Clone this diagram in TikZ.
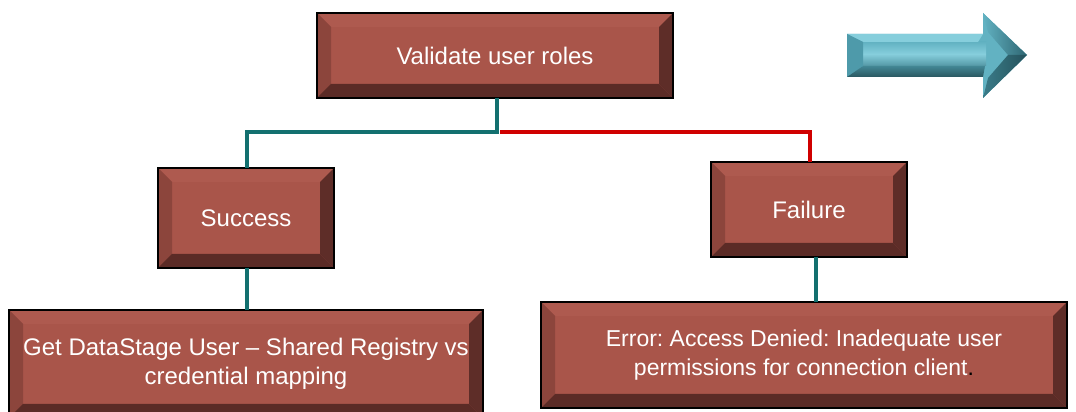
\documentclass[tikz,border=0pt]{standalone}
\usepackage{fontspec}
\setmainfont{Liberation Sans}
\definecolor{face}{HTML}{A9554A}
\definecolor{bvT}{HTML}{AE5A4F}
\definecolor{bvL}{HTML}{8C453C}
\definecolor{bvR}{HTML}{5E2D28}
\definecolor{bvB}{HTML}{5B2B26}
\definecolor{tealc}{HTML}{13706F}
\definecolor{redc}{HTML}{D00000}
\definecolor{arF}{HTML}{62B2C2}
\definecolor{arT}{HTML}{86CEDC}
\definecolor{arL}{HTML}{4E9AAA}
\definecolor{arB}{HTML}{3B7C89}
\definecolor{arH}{HTML}{2E6672}
\tikzset{
  bevbox/.style={draw=black, line width=1.6pt, fill=face, text=white,
    font=\fontsize{24}{29}\selectfont\frenchspacing, align=center, inner sep=0pt, outer sep=0pt,
    path picture={
      \def\bb{path picture bounding box}
      \fill[bvT] (\bb.north west) -- (\bb.north east) -- ([xshift=-14pt,yshift=-14pt]\bb.north east) -- ([xshift=14pt,yshift=-14pt]\bb.north west) -- cycle;
      \fill[bvL] (\bb.north west) -- ([xshift=14pt,yshift=-14pt]\bb.north west) -- ([xshift=14pt,yshift=14pt]\bb.south west) -- (\bb.south west) -- cycle;
      \fill[bvR] (\bb.north east) -- ([xshift=-14pt,yshift=-14pt]\bb.north east) -- ([xshift=-14pt,yshift=14pt]\bb.south east) -- (\bb.south east) -- cycle;
      \fill[bvB] (\bb.south west) -- ([xshift=14pt,yshift=14pt]\bb.south west) -- ([xshift=-14pt,yshift=14pt]\bb.south east) -- (\bb.south east) -- cycle;
    }},
  tealline/.style={draw=tealc, line width=4pt},
  redline/.style={draw=redc, line width=4pt}
}
\begin{document}
\frenchspacing
\begin{tikzpicture}[x=1pt,y=1pt]
\useasboundingbox (0,0) rectangle (1076,412);
\clip (0,0) rectangle (1076,412);
% boxes
\node[bevbox, minimum width=356pt, minimum height=85pt] (top) at (495,356.5) {Validate user roles};
\node[bevbox, minimum width=176pt, minimum height=100pt] (succ) at (246,194) {Success};
\node[bevbox, minimum width=196pt, minimum height=95pt] (fail) at (809,202.5) {Failure};
\node[bevbox, minimum width=474pt, minimum height=108pt] (get) at (246,48) {Get DataStage User -- Shared Registry vs\\credential mapping};
\node[bevbox, minimum width=526pt, minimum height=106pt, font=\fontsize{23}{29}\selectfont\frenchspacing] (err) at (804,57) {Error: Access Denied: Inadequate user\\permissions for connection client{\color{black}.}};
% connectors
\coordinate (j) at (497,280);
\draw[tealline] ([xshift=2pt]top.south) -- ([xshift=2pt]top.south |- j) -| ([xshift=1pt]succ.north);
\draw[redline] ([xshift=5pt]top.south |- j) -| ([xshift=1pt]fail.north);
\draw[tealline] ([xshift=1pt]succ.south) -- ([xshift=1pt]succ.south |- get.north);
\draw[tealline] ([xshift=7pt]fail.south) -- ([xshift=7pt]fail.south |- err.north);
% block arrow
\fill[arF] (847,378) -- (983,378) -- (983,399) -- (1027,357) -- (983,314) -- (983,335) -- (847,335) -- cycle;
\shade[top color=arF, bottom color=arF!85!black, middle color=arT] (863,370) rectangle (986,346);
\fill[arT] (847,378) -- (983,378) -- (978,370) -- (863,370) -- cycle;
\fill[arL] (847,378) -- (863,370) -- (863,346) -- (847,335) -- cycle;
\shade[top color=arB!80!arF, bottom color=arB!70!black] (847,335) -- (863,346) -- (985,346) -- (983,335) -- cycle;
\shade[left color=arF, right color=arH] (983,399) -- (1027,357) -- (1008,357) -- (988,380) -- cycle;
\shade[left color=arB, right color=arH!80!black] (983,314) -- (1027,357) -- (1008,357) -- (988,334) -- cycle;
\end{tikzpicture}
\end{document}
